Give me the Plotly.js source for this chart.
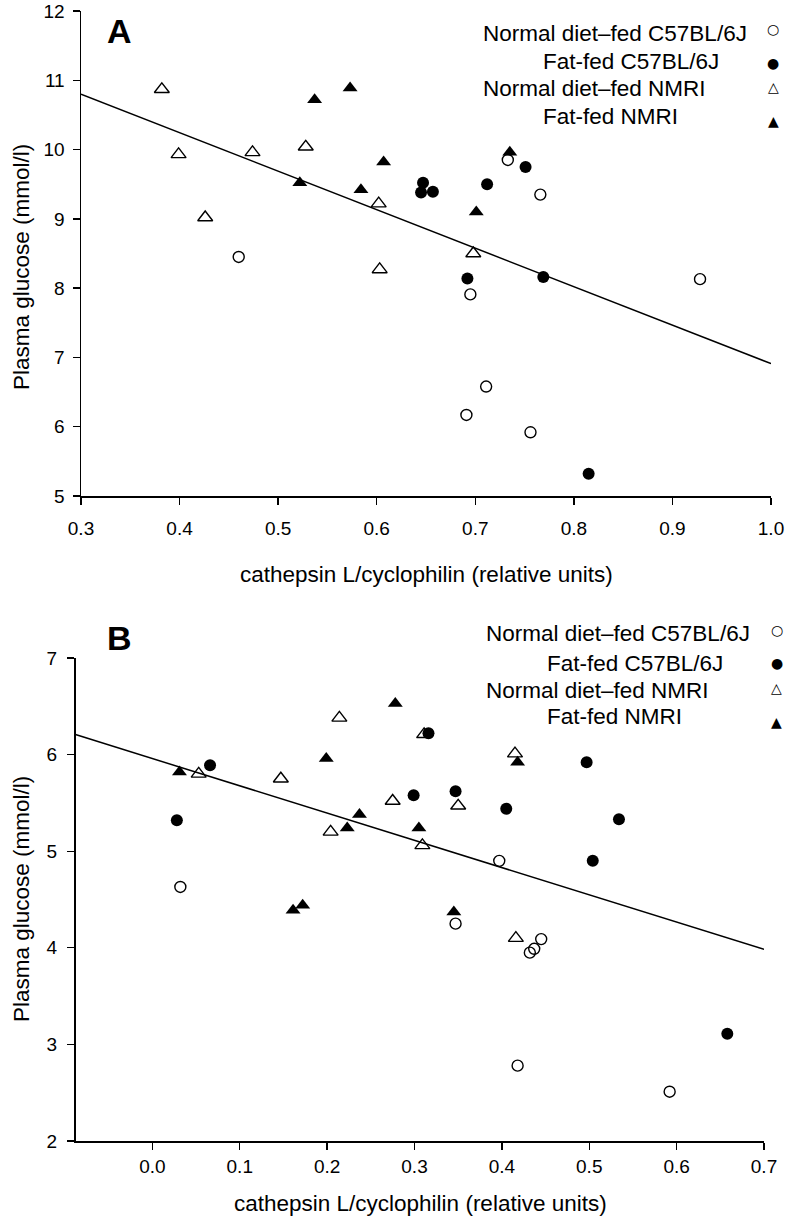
<!DOCTYPE html>
<html>
<head>
<meta charset="utf-8">
<script src="https://cdn.plot.ly/plotly-3.0.1.min.js"></script>
<style>html,body{margin:0;padding:0;background:#fff;}#chart{width:785px;height:1218px;}</style>
</head>
<body>
<div id="chart"></div>
<script>
// ---------- DATA ----------
const seriesNames = ["Normal diet\u2013fed C57BL/6J", "Fat-fed C57BL/6J", "Normal diet\u2013fed NMRI", "Fat-fed NMRI"];

// Panel A
const A_normalC57_x = [0.460, 0.733, 0.766, 0.695, 0.711, 0.691, 0.756, 0.928];
const A_normalC57_y = [8.45, 9.85, 9.35, 7.91, 6.58, 6.17, 5.92, 8.13];
const A_fatC57_x = [0.647, 0.645, 0.657, 0.712, 0.751, 0.692, 0.769, 0.815];
const A_fatC57_y = [9.52, 9.38, 9.39, 9.50, 9.75, 8.14, 8.16, 5.32];
const A_normalNMRI_x = [0.382, 0.399, 0.426, 0.474, 0.528, 0.602, 0.603, 0.698];
const A_normalNMRI_y = [10.87, 9.93, 9.02, 9.96, 10.04, 9.22, 8.27, 8.50];
const A_fatNMRI_x = [0.537, 0.573, 0.522, 0.584, 0.607, 0.701, 0.735];
const A_fatNMRI_y = [10.72, 10.89, 9.52, 9.42, 9.82, 9.10, 9.96];
const A_fit = {intercept: 12.467, slope: -5.557};

// Panel B
const B_normalC57_x = [0.032, 0.397, 0.347, 0.445, 0.437, 0.432, 0.418, 0.592];
const B_normalC57_y = [4.63, 4.90, 4.25, 4.09, 3.99, 3.95, 2.78, 2.51];
const B_fatC57_x = [0.028, 0.066, 0.316, 0.299, 0.347, 0.405, 0.497, 0.534, 0.504, 0.658];
const B_fatC57_y = [5.32, 5.89, 6.22, 5.58, 5.62, 5.44, 5.92, 5.33, 4.90, 3.11];
const B_normalNMRI_x = [0.053, 0.147, 0.214, 0.204, 0.275, 0.311, 0.350, 0.309, 0.415, 0.416];
const B_normalNMRI_y = [5.80, 5.75, 6.38, 5.20, 5.52, 6.21, 5.47, 5.06, 6.01, 4.10];
const B_fatNMRI_x = [0.031, 0.199, 0.278, 0.237, 0.223, 0.305, 0.418, 0.161, 0.172, 0.345];
const B_fatNMRI_y = [5.82, 5.96, 6.53, 5.38, 5.24, 5.24, 5.92, 4.39, 4.44, 4.37];
const B_fit = {intercept: 5.959, slope: -2.822};

const A_xrange = [0.3, 1.0], A_yrange = [5, 12];
const B_xrange = [-0.088, 0.7], B_yrange = [2, 7];

// ---------- STYLE ----------
const W = 785, H = 1218;
const px = v => v / W;
const py = v => 1 - v / H;
const FONT = "Liberation Sans, Arial, Helvetica, sans-serif";
const symbols = [
  {symbol: "circle-open", size: 11, line: {color: "#000", width: 1.4}, color: "#000"},
  {symbol: "circle", size: 12, color: "#000", line: {width: 0}},
  {symbol: "triangle-up-open", size: 13, line: {color: "#000", width: 1.4}, color: "#000"},
  {symbol: "triangle-up", size: 13, color: "#000", line: {width: 0}}
];
const drawOrder = [0, 2, 3, 1];

function fitLine(fit, xr, xa, ya) {
  return {x: xr, y: xr.map(v => fit.intercept + fit.slope * v), mode: "lines",
    line: {color: "#000", width: 1.5}, xaxis: xa, yaxis: ya, showlegend: false, hoverinfo: "skip"};
}

const Adata = [[A_normalC57_x, A_normalC57_y], [A_fatC57_x, A_fatC57_y], [A_normalNMRI_x, A_normalNMRI_y], [A_fatNMRI_x, A_fatNMRI_y]];
const Bdata = [[B_normalC57_x, B_normalC57_y], [B_fatC57_x, B_fatC57_y], [B_normalNMRI_x, B_normalNMRI_y], [B_fatNMRI_x, B_fatNMRI_y]];

const traces = [fitLine(A_fit, A_xrange, "x", "y"), fitLine(B_fit, B_xrange, "x2", "y2")];
drawOrder.forEach(i => {
  traces.push({x: Adata[i][0], y: Adata[i][1], mode: "markers", marker: symbols[i], name: seriesNames[i], xaxis: "x", yaxis: "y", showlegend: false, cliponaxis: false});
});
drawOrder.forEach(i => {
  traces.push({x: Bdata[i][0], y: Bdata[i][1], mode: "markers", marker: symbols[i], name: seriesNames[i], xaxis: "x2", yaxis: "y2", showlegend: false, cliponaxis: false});
});

const axisBase = {
  showgrid: false, zeroline: false, showline: true, linecolor: "#000", linewidth: 1.5,
  ticks: "outside", ticklen: 7, tickwidth: 1.3, tickcolor: "#000",
  tickfont: {family: FONT, size: 19, color: "#000"}, automargin: false, fixedrange: true
};

const layout = {
  width: W, height: H, margin: {l: 0, r: 0, t: 0, b: 0},
  paper_bgcolor: "#fff", plot_bgcolor: "rgba(0,0,0,0)", showlegend: false,
  font: {family: FONT, color: "#000"},
  xaxis: Object.assign({}, axisBase, {domain: [px(81), px(771)], range: A_xrange, tick0: 0.3, dtick: 0.1, tickformat: ".1f", anchor: "y", ticklabelstandoff: 8}),
  yaxis: Object.assign({}, axisBase, {domain: [py(496), py(11)], range: A_yrange, dtick: 1, anchor: "x", ticklabelstandoff: 4}),
  xaxis2: Object.assign({}, axisBase, {domain: [px(75.5), px(764)], range: B_xrange, tick0: 0, dtick: 0.1, tickformat: ".1f", anchor: "y2", ticklabelstandoff: 1}),
  yaxis2: Object.assign({}, axisBase, {domain: [py(1141), py(658)], range: B_yrange, dtick: 1, anchor: "x2", ticklabelstandoff: 6}),
  annotations: []
};

const ann = layout.annotations;
const titleFont = {family: FONT, size: 22.5, color: "#000"};
// axis titles
ann.push({xref: "paper", yref: "paper", x: px(426), y: py(575), text: "cathepsin L/cyclophilin (relative units)", showarrow: false, font: titleFont, xanchor: "center", yanchor: "middle"});
ann.push({xref: "paper", yref: "paper", x: px(420), y: py(1203), text: "cathepsin L/cyclophilin (relative units)", showarrow: false, font: titleFont, xanchor: "center", yanchor: "middle"});
ann.push({xref: "paper", yref: "paper", x: px(21), y: py(267), text: "Plasma glucose (mmol/l)", textangle: -90, showarrow: false, font: titleFont, xanchor: "center", yanchor: "middle"});
ann.push({xref: "paper", yref: "paper", x: px(21), y: py(899), text: "Plasma glucose (mmol/l)", textangle: -90, showarrow: false, font: titleFont, xanchor: "center", yanchor: "middle"});
// panel letters
ann.push({xref: "paper", yref: "paper", x: px(119), y: py(31), text: "<b>A</b>", showarrow: false, font: {family: FONT, size: 34, color: "#000"}, xanchor: "center", yanchor: "middle"});
ann.push({xref: "paper", yref: "paper", x: px(119), y: py(638), text: "<b>B</b>", showarrow: false, font: {family: FONT, size: 34, color: "#000"}, xanchor: "center", yanchor: "middle"});

// legends
const legendGlyphs = ["\u25CB", "\u25CF", "\u25B3", "\u25B2"];
const legendFont = {family: FONT, size: 22.5, color: "#000"};
function addLegend(textLeft, textY, markX, markY) {
  for (let i = 0; i < 4; i++) {
    ann.push({xref: "paper", yref: "paper", x: px(textLeft[i]), y: py(textY[i]), text: seriesNames[i], showarrow: false, font: legendFont, xanchor: "left", yanchor: "middle"});
    ann.push({xref: "paper", yref: "paper", x: px(markX), y: py(markY[i]), text: legendGlyphs[i], showarrow: false, font: {family: "DejaVu Sans", size: 14, color: "#000"}, xanchor: "center", yanchor: "middle"});
  }
}
addLegend([481, 540.5, 481, 540.5], [33, 61.7, 88.3, 116], 773.3, [29.3, 63.3, 87.3, 121]);
addLegend([484, 545, 484, 545], [633.3, 663.3, 690, 716.7], 776.7, [630, 663.3, 688.3, 721.7]);

Plotly.newPlot("chart", traces, layout, {staticPlot: true, displayModeBar: false});
</script>
</body>
</html>
